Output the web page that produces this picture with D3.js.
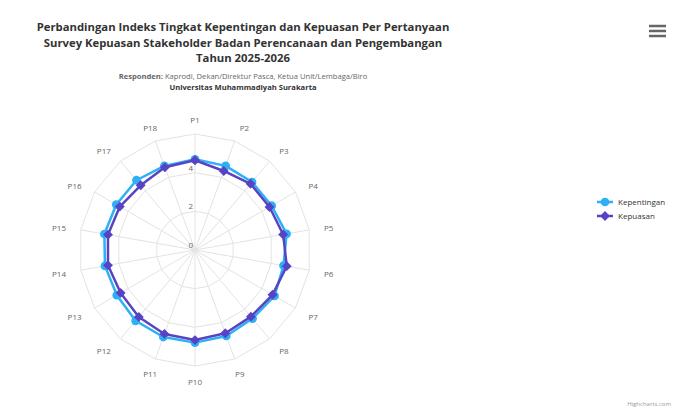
<!DOCTYPE html>
<html>
<head>
<meta charset="utf-8">
<script src="https://cdn.jsdelivr.net/npm/d3@7"></script>
<style>
  html, body { margin: 0; padding: 0; background: #fff; }
  svg { display: block; font-family: 'Open Sans', sans-serif; }
</style>
</head>
<body>
<div id="chart"></div>
<script>
// question labels
const categories = ['P1', 'P2', 'P3', 'P4', 'P5', 'P6', 'P7', 'P8', 'P9', 'P10',
    'P11', 'P12', 'P13', 'P14', 'P15', 'P16', 'P17', 'P18'];

// index per question
const kepentingan = [4.69, 4.63, 4.59, 4.58, 4.81, 4.65, 4.75, 4.63, 4.73, 4.79,
    4.79, 4.78, 4.67, 4.73, 4.76, 4.70, 4.71, 4.63];
const kepuasan = [4.64, 4.35, 4.47, 4.45, 4.63, 4.82, 4.63, 4.50, 4.58, 4.66,
    4.62, 4.52, 4.44, 4.57, 4.57, 4.49, 4.37, 4.55];

const yTicks = [0, 2, 4, 6];
const yMax = 6;

const seriesNames = ['Kepentingan', 'Kepuasan'];
const seriesColors = ['#2db0f5', '#5843c4'];

const width = 687;
const height = 416;
const center = { x: 195, y: 250 };
const radius = 116;

const svg = d3.select('#chart')
    .append('svg')
    .attr('width', width)
    .attr('height', height);

// title + subtitle
const title = svg.append('text')
    .attr('text-anchor', 'middle')
    .style('font-size', '11.3px')
    .style('font-weight', 'bold')
    .style('fill', '#333');
['Perbandingan Indeks Tingkat Kepentingan dan Kepuasan Per Pertanyaan',
 'Survey Kepuasan Stakeholder Badan Perencanaan dan Pengembangan',
 'Tahun 2025-2026'].forEach((t, i) => {
    title.append('tspan').attr('x', 243).attr('y', 31 + i * 15.5).text(t);
});

const sub1 = svg.append('text')
    .attr('x', 243).attr('y', 79)
    .attr('text-anchor', 'middle')
    .style('font-size', '7.6px')
    .style('fill', '#666');
sub1.append('tspan').style('font-weight', 'bold').text('Responden:');
sub1.append('tspan').text(' Kaprodi, Dekan/Direktur Pasca, Ketua Unit/Lembaga/Biro');

svg.append('text')
    .attr('x', 243).attr('y', 90)
    .attr('text-anchor', 'middle')
    .style('font-size', '7.6px')
    .style('font-weight', 'bold')
    .style('fill', '#333')
    .text('Universitas Muhammadiyah Surakarta');

// scales
const rScale = d3.scaleLinear().domain([0, yMax]).range([0, radius]);
const aScale = d3.scaleLinear().domain([0, categories.length]).range([0, 2 * Math.PI]);

const g = svg.append('g').attr('transform', `translate(${center.x},${center.y})`);

const point = (i, v) => {
    const a = aScale(i);
    return [rScale(v) * Math.sin(a), -rScale(v) * Math.cos(a)];
};

// polygon grid rings
const ring = d3.lineRadial()
    .angle((d, i) => aScale(i))
    .radius((d) => rScale(d))
    .curve(d3.curveLinearClosed);

yTicks.filter((t) => t > 0).forEach((t) => {
    g.append('path')
        .attr('d', ring(categories.map(() => t)))
        .attr('fill', 'none')
        .attr('stroke', '#e3e3e3')
        .attr('stroke-width', 1);
});

// spokes
g.selectAll('.spoke')
    .data(categories)
    .join('line')
    .attr('class', 'spoke')
    .attr('x1', 0).attr('y1', 0)
    .attr('x2', (d, i) => point(i, yMax)[0])
    .attr('y2', (d, i) => point(i, yMax)[1])
    .attr('stroke', '#e3e3e3')
    .attr('stroke-width', 1);

// category labels
g.selectAll('.cat')
    .data(categories)
    .join('text')
    .attr('class', 'cat')
    .attr('x', (d, i) => (rScale(yMax) + 15) * Math.sin(aScale(i)))
    .attr('y', (d, i) => -(rScale(yMax) + 15) * Math.cos(aScale(i)) + 4)
    .attr('text-anchor', (d, i) => {
        const deg = i * 360 / categories.length;
        if (deg >= 20 && deg < 160) return 'start';
        if (deg > 200 && deg < 340) return 'end';
        return 'middle';
    })
    .style('font-size', '8px')
    .style('fill', '#666')
    .text((d) => d);

// radial axis labels (last one hidden)
g.selectAll('.ylab')
    .data(yTicks.slice(0, -1))
    .join('text')
    .attr('class', 'ylab')
    .attr('x', -2)
    .attr('y', (d) => -rScale(d) - 2)
    .attr('text-anchor', 'end')
    .style('font-size', '8px')
    .style('fill', '#666')
    .text((d) => d);

// series
const seriesLine = d3.lineRadial()
    .angle((d, i) => aScale(i))
    .radius((d) => rScale(d))
    .curve(d3.curveLinearClosed);

[kepentingan, kepuasan].forEach((values, s) => {
    const color = seriesColors[s];
    g.append('path')
        .attr('d', seriesLine(values))
        .attr('fill', 'none')
        .attr('stroke', color)
        .attr('stroke-width', 2.5)
        .attr('stroke-linejoin', 'round');

    const sym = s === 0 ? d3.symbolCircle : d3.symbolDiamond2;
    const size = s === 0 ? 60 : 62;
    g.selectAll(`.m${s}`)
        .data(values)
        .join('path')
        .attr('class', `m${s}`)
        .attr('transform', (d, i) => `translate(${point(i, d)})`)
        .attr('d', d3.symbol().type(sym).size(size))
        .attr('fill', color);
});

// legend
const legend = svg.append('g').attr('transform', 'translate(597,202)');
seriesNames.forEach((name, s) => {
    const item = legend.append('g').attr('transform', `translate(0,${s * 14})`);
    item.append('line')
        .attr('x1', 0).attr('x2', 16)
        .attr('stroke', seriesColors[s])
        .attr('stroke-width', 2.5);
    item.append('path')
        .attr('transform', 'translate(8,0)')
        .attr('d', d3.symbol().type(s === 0 ? d3.symbolCircle : d3.symbolDiamond2).size(s === 0 ? 60 : 62))
        .attr('fill', seriesColors[s]);
    item.append('text')
        .attr('x', 21).attr('y', 3)
        .style('font-size', '8px')
        .style('fill', '#333')
        .text(name);
});

// menu button
const menu = svg.append('g').attr('transform', 'translate(649,26)');
[0, 5, 10].forEach((dy) => {
    menu.append('line')
        .attr('x1', 0).attr('x2', 17)
        .attr('y1', dy).attr('y2', dy)
        .attr('stroke', '#666')
        .attr('stroke-width', 2.5);
});

// credits
svg.append('text')
    .attr('x', 671).attr('y', 406)
    .attr('text-anchor', 'end')
    .style('font-size', '6px')
    .style('fill', '#999')
    .text('Highcharts.com');
</script>
</body>
</html>
